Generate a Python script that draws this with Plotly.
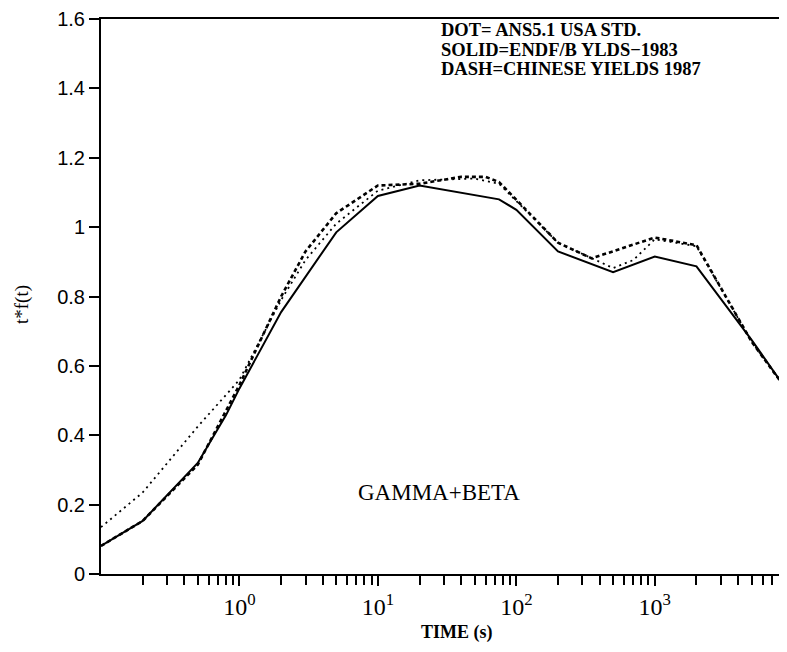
import plotly.graph_objects as go

# ---- data ----
solid_t = [0.1, 0.2, 0.5, 0.8, 1.0, 2.0, 5.0, 10, 20, 75, 100, 200, 500, 1000, 2000, 5000, 9000]
solid_y = [0.081, 0.153, 0.32, 0.458, 0.535, 0.755, 0.985, 1.09, 1.12, 1.08, 1.05, 0.93, 0.87, 0.915, 0.887, 0.675, 0.53]

ans_t = [0.1, 0.2, 0.5, 1.0, 2.0, 3.0, 5.0, 10, 20, 50, 75, 200, 500, 700, 1000, 2000, 5000, 9000]
ans_y = [0.135, 0.235, 0.425, 0.56, 0.79, 0.905, 1.01, 1.105, 1.135, 1.14, 1.125, 0.955, 0.882, 0.905, 0.965, 0.945, 0.67, 0.53]

chn_t = [0.1, 0.2, 0.5, 1.0, 2.0, 3.0, 5.0, 10, 20, 40, 60, 75, 200, 350, 1000, 2000, 5000, 9000]
chn_y = [0.081, 0.153, 0.315, 0.545, 0.80, 0.93, 1.04, 1.12, 1.125, 1.145, 1.145, 1.13, 0.955, 0.91, 0.97, 0.948, 0.67, 0.53]

y_ticks = [0, 0.2, 0.4, 0.6, 0.8, 1.0, 1.2, 1.4, 1.6]
y_ticktext = ["0", "0.2", "0.4", "0.6", "0.8", "1", "1.2", "1.4", "1.6"]
x_ticks = [1, 10, 100, 1000]
x_ticktext = ["10<sup>0</sup>", "10<sup>1</sup>", "10<sup>2</sup>", "10<sup>3</sup>"]
x_minor = [m * 10.0 ** e for e in range(-1, 4) for m in range(2, 10)]

legend_lines = ["DOT= ANS5.1 USA STD.", "SOLID=ENDF/B YLDS\u22121983", "DASH=CHINESE YIELDS 1987"]

fig = go.Figure()
fig.add_trace(go.Scatter(x=ans_t, y=ans_y, mode="lines",
                         line=dict(color="black", width=1.8, dash="2px,4px"), showlegend=False))
fig.add_trace(go.Scatter(x=chn_t, y=chn_y, mode="lines",
                         line=dict(color="black", width=2.6, dash="4px,3px"), showlegend=False))
fig.add_trace(go.Scatter(x=solid_t, y=solid_y, mode="lines",
                         line=dict(color="black", width=2), showlegend=False))

# page body has an 8px margin: figure spans window px 8..787 / 8..652
fig.update_layout(
    width=779, height=644,
    margin=dict(l=93, r=0, t=11, b=78),
    paper_bgcolor="white", plot_bgcolor="white",
    xaxis=dict(type="log", range=[-1, 3.955], showgrid=False, zeroline=False,
               showline=True, linecolor="black", linewidth=2, mirror=True,
               ticks="outside", ticklen=10, tickwidth=2, tickcolor="black",
               tickvals=x_ticks, ticktext=x_ticktext,
               tickfont=dict(family="Liberation Serif", size=24, color="black"),
               minor=dict(ticks="outside", ticklen=9, tickwidth=2, tickcolor="black",
                          tickvals=x_minor, showgrid=False)),
    yaxis=dict(range=[0, 1.6], showgrid=False, zeroline=False,
               showline=True, linecolor="black", linewidth=2,
               ticks="outside", ticklen=10, tickwidth=2, tickcolor="black",
               tickvals=y_ticks, ticktext=y_ticktext,
               tickfont=dict(family="Liberation Sans", size=20, color="black")),
)

H = 555.0  # plot-area height in px; window y of value 0 is 574
def py(ypix):
    return (574 - ypix) / H
def px(xpix):
    return (xpix - 101) / 686.0

for i, txt in enumerate(legend_lines):
    fig.add_annotation(xref="paper", yref="paper", x=px(439), y=py(30 + 19.5 * i),
                       xanchor="left", yanchor="middle", showarrow=False, text="<b>" + txt + "</b>",
                       font=dict(family="Liberation Serif", size=18.5, color="black"))

fig.add_annotation(xref="paper", yref="paper", x=px(439), y=py(492),
                   xanchor="center", yanchor="middle", showarrow=False, text="GAMMA+BETA",
                   font=dict(family="Liberation Serif", size=23, color="black"))
fig.add_annotation(xref="paper", yref="paper", x=px(457), y=py(632),
                   xanchor="center", yanchor="middle", showarrow=False, text="<b>TIME (s)</b>",
                   font=dict(family="Liberation Serif", size=18, color="black"))
fig.add_annotation(xref="paper", yref="paper", x=px(22), y=py(305),
                   xanchor="center", yanchor="middle", showarrow=False, text="t*f(t)", textangle=-90,
                   font=dict(family="Liberation Serif", size=19, color="black"))

fig.write_html("out.html")
